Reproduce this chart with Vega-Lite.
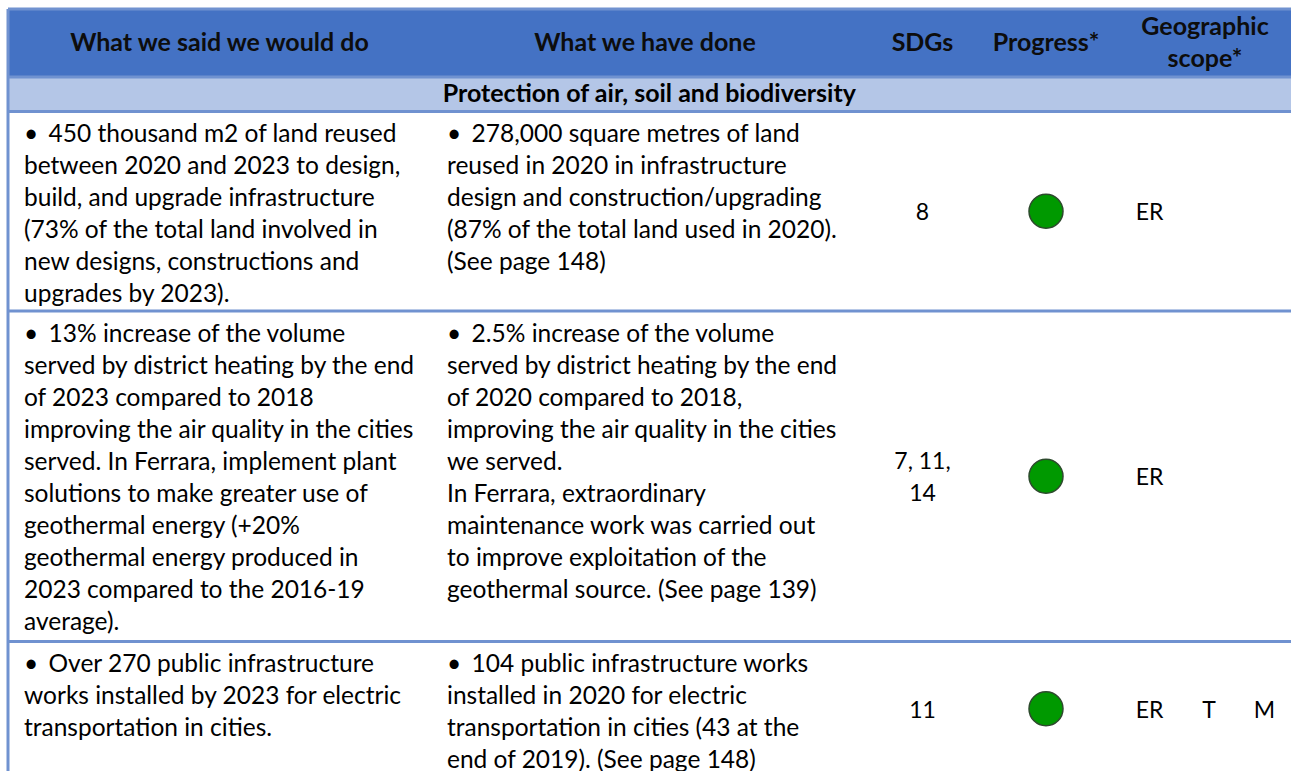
{
  "$schema": "https://vega.github.io/schema/vega-lite/v6.json",
  "width": 1291,
  "height": 771,
  "autosize": {"type": "none"},
  "padding": 0,
  "background": "white",
  "config": {"view": {"stroke": null}, "font": "Lato"},
  "datasets": {
    "bands": [
      {"band": "header", "top": -2, "bottom": -1},
      {"band": "subheader", "top": -1, "bottom": 0}
    ],
    "rules": [{"edge": -2}, {"edge": -1}, {"edge": 0}, {"edge": 1}, {"edge": 2}],
    "heads": [
      {"col": 0.5, "line": -1.5, "text": "What we said we would do"},
      {"col": 1.5, "line": -1.5, "text": "What we have done"},
      {"col": 2.5, "line": -1.5, "text": "SDGs"},
      {"col": 3.5, "line": -1.5, "text": "Progress*"},
      {"col": 4.5, "line": -1.74, "text": "Geographic"},
      {"col": 4.5, "line": -1.26, "text": "scope*"}
    ],
    "section": [{"col": 1.51, "text": "Protection of air, soil and biodiversity"}],
    "cells": [
      {"row": 0, "col": 0, "text": "• \u2006450 thousand m2 of land reused\nbetween 2020 and 2023 to design,\nbuild, and upgrade infrastructure\n(73% of the total land involved in\nnew designs, constructions and\nupgrades by 2023)."},
      {"row": 0, "col": 1, "text": "• \u2006278,000 square metres of land\nreused in 2020 in infrastructure\ndesign and construction/upgrading\n(87% of the total land used in 2020).\n(See page 148)"},
      {"row": 1, "col": 0, "text": "• \u200613% increase of the volume\nserved by district heating by the end\nof 2023 compared to 2018\nimproving the air quality in the cities\nserved. In Ferrara, implement plant\nsolutions to make greater use of\ngeothermal energy (+20%\ngeothermal energy produced in\n2023 compared to the 2016-19\naverage)."},
      {"row": 1, "col": 1, "text": "• \u20062.5% increase of the volume\nserved by district heating by the end\nof 2020 compared to 2018,\nimproving the air quality in the cities\nwe served.\nIn Ferrara, extraordinary\nmaintenance work was carried out\nto improve exploitation of the\ngeothermal source. (See page 139)"},
      {"row": 2, "col": 0, "text": "• \u2006Over 270 public infrastructure\nworks installed by 2023 for electric\ntransportation in cities."},
      {"row": 2, "col": 1, "text": "• \u2006104 public infrastructure works\ninstalled in 2020 for electric\ntransportation in cities (43 at the\nend of 2019). (See page 148)"}
    ],
    "centers": [
      {"row": 0.5, "col": 2.5, "text": "8"},
      {"row": 0.5, "col": 4.22, "text": "ER"},
      {"row": 1.4516, "col": 2.5, "text": "7, 11,"},
      {"row": 1.5484, "col": 2.5, "text": "14"},
      {"row": 1.5, "col": 4.22, "text": "ER"},
      {"row": 2.5, "col": 2.5, "text": "11"},
      {"row": 2.5, "col": 4.22, "text": "ER"},
      {"row": 2.5, "col": 4.52, "text": "T"},
      {"row": 2.5, "col": 4.8, "text": "M"}
    ],
    "progress": [
      {"row": 0.5, "status": "achieved"},
      {"row": 1.5, "status": "achieved"},
      {"row": 2.5, "status": "achieved"}
    ]
  },
  "layer": [
    {
      "data": {"name": "bands"},
      "mark": {"type": "rect"},
      "encoding": {
        "x": {"datum": 0, "type": "quantitative", "scale": {"type": "linear", "domain": [0, 1, 2, 3, 4, 5], "range": [8, 431, 859, 986, 1106, 1304], "zero": false, "nice": false}, "axis": null},
        "x2": {"datum": 5},
        "y": {"field": "top", "type": "quantitative", "scale": {"type": "linear", "domain": [-2, -1, 0, 1, 2, 3], "range": [9, 77, 111.5, 311, 641.5, 776], "zero": false, "nice": false}, "axis": null},
        "y2": {"field": "bottom"},
        "color": {"field": "band", "type": "nominal", "scale": {"domain": ["header", "subheader"], "range": ["#4472C4", "#B4C6E7"]}, "legend": null}
      }
    },
    {
      "data": {"name": "rules"},
      "mark": {"type": "rule", "color": "#7092D0", "strokeWidth": 3},
      "encoding": {
        "y": {"field": "edge", "type": "quantitative"},
        "x": {"datum": 0, "type": "quantitative"},
        "x2": {"datum": 5}
      }
    },
    {
      "data": {"values": [{"side": "left"}]},
      "mark": {"type": "rule", "color": "#7092D0", "strokeWidth": 3},
      "encoding": {
        "x": {"datum": 0, "type": "quantitative"},
        "y": {"datum": -2, "type": "quantitative"},
        "y2": {"datum": 3}
      }
    },
    {
      "data": {"name": "heads"},
      "mark": {"type": "text", "font": "Lato", "fontWeight": "bold", "fontSize": 25, "align": "center", "baseline": "middle", "color": "#0d0d0d"},
      "encoding": {
        "x": {"field": "col", "type": "quantitative"},
        "y": {"field": "line", "type": "quantitative"},
        "text": {"field": "text", "type": "nominal"}
      }
    },
    {
      "data": {"name": "section"},
      "mark": {"type": "text", "font": "Lato", "fontWeight": "bold", "fontSize": 25, "align": "center", "baseline": "middle", "color": "#000000"},
      "encoding": {
        "x": {"field": "col", "type": "quantitative"},
        "y": {"datum": -0.5, "type": "quantitative"},
        "text": {"field": "text", "type": "nominal"}
      }
    },
    {
      "data": {"name": "cells"},
      "mark": {"type": "text", "font": "Lato", "fontSize": 24.5, "align": "left", "baseline": "alphabetic", "lineBreak": "\n", "lineHeight": 32, "dx": 16, "dy": 30.5, "color": "#000000"},
      "encoding": {
        "x": {"field": "col", "type": "quantitative"},
        "y": {"field": "row", "type": "quantitative"},
        "text": {"field": "text", "type": "nominal"}
      }
    },
    {
      "data": {"name": "centers"},
      "mark": {"type": "text", "font": "Lato", "fontSize": 23, "align": "center", "baseline": "middle", "dy": 2, "color": "#000000"},
      "encoding": {
        "x": {"field": "col", "type": "quantitative"},
        "y": {"field": "row", "type": "quantitative"},
        "text": {"field": "text", "type": "nominal"}
      }
    },
    {
      "data": {"name": "progress"},
      "mark": {"type": "point", "shape": "circle", "filled": true, "size": 1156, "fill": "#009900", "stroke": "#2d4a2d", "strokeWidth": 1.5, "opacity": 1},
      "encoding": {
        "x": {"datum": 3.5, "type": "quantitative"},
        "y": {"field": "row", "type": "quantitative"}
      }
    }
  ]
}
